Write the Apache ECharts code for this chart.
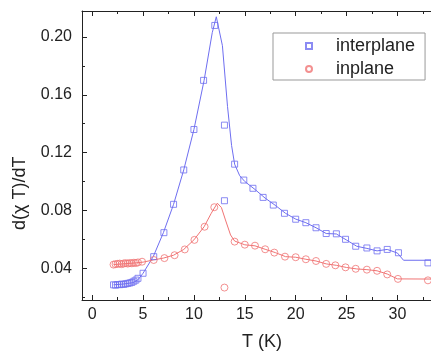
<!DOCTYPE html>
<html>
<head>
<meta charset="utf-8">
<script src="https://cdn.jsdelivr.net/npm/echarts@6/dist/echarts.min.js"></script>
<style>
html,body{margin:0;padding:0;background:#fff;}
#c{width:431px;height:355px;}
</style>
</head>
<body>
<div id="c"></div>
<script>
// measured points
const interplaneT = [2.1,2.3,2.5,2.7,2.9,3.1,3.3,3.5,3.7,3.9,4.1,4.3,4.5,5.0,6.05,7.05,8.0,9.0,10.0,10.95,12.05,13.0,13.0,14.0,14.9,15.8,16.8,17.8,18.9,20.0,21.0,22.0,23.0,24.0,24.9,25.9,27.0,28.0,29.0,30.1,33.0];
const interplaneV = [0.0285,0.0283,0.0287,0.0286,0.029,0.0288,0.0292,0.0295,0.0298,0.0302,0.031,0.0318,0.033,0.0365,0.048,0.0646,0.0842,0.108,0.136,0.170,0.208,0.139,0.0867,0.112,0.101,0.0953,0.089,0.0837,0.078,0.0739,0.0715,0.068,0.064,0.0638,0.060,0.0552,0.054,0.052,0.053,0.0507,0.0437];
const inplaneT = [2.1,2.3,2.5,2.7,2.9,3.1,3.3,3.5,3.7,3.9,4.1,4.3,4.5,4.9,6.05,7.1,8.1,9.1,10.05,11.05,12.0,13.0,14.0,15.0,16.0,17.0,17.9,18.95,20.0,21.0,22.0,23.0,23.9,24.9,25.9,27.0,28.0,29.0,30.05,33.0];
const inplaneV = [0.0425,0.0428,0.043,0.0432,0.0428,0.0433,0.0435,0.0432,0.0436,0.0434,0.0438,0.0436,0.044,0.0445,0.0457,0.047,0.049,0.053,0.0596,0.0687,0.0822,0.0266,0.0584,0.0563,0.0556,0.0531,0.0508,0.048,0.0476,0.0462,0.045,0.043,0.042,0.0406,0.0396,0.039,0.0382,0.0357,0.0326,0.0316];
// guide curves
const interplaneFitT = [2.1,3,4,4.5,5,6,7,8,9,10,11,11.8,12.2,12.8,13.3,13.7,14,14.5,15,16,17,18,19,20,21,22,23,24,25,26,27,28,29,30,30.6,33.3];
const interplaneFitV = [0.0285,0.029,0.030,0.032,0.0365,0.048,0.0646,0.0842,0.108,0.136,0.170,0.203,0.214,0.194,0.152,0.125,0.112,0.104,0.100,0.0945,0.0885,0.0835,0.078,0.074,0.0715,0.068,0.064,0.0637,0.0595,0.0552,0.0537,0.052,0.053,0.0505,0.0455,0.0455];
const inplaneFitT = [2.1,3,4,5,6,7,8,9,10,11,11.7,12.3,12.7,13.1,13.6,14,15,16,17,18,19,20,21,22,23,24,25,26,27,28,29,30,33.3];
const inplaneFitV = [0.0425,0.043,0.0435,0.0442,0.0457,0.047,0.049,0.053,0.0596,0.0687,0.078,0.085,0.082,0.0734,0.063,0.0588,0.0562,0.0555,0.0531,0.0508,0.048,0.0476,0.0462,0.045,0.043,0.042,0.0405,0.0395,0.039,0.0382,0.036,0.0326,0.0325];
// axis ticks
const xMajor = [0,5,10,15,20,25,30];
const xMinor = [2.5,7.5,12.5,17.5,22.5,27.5,32.5];
const yMajor = [0.04,0.08,0.12,0.16,0.20];
const yMinor = [0.02,0.06,0.10,0.14,0.18];

const zip = (a,b) => a.map((v,i)=>[v,b[i]]);
const FONT = 'Liberation Sans, Arial, sans-serif';
const BLUE = '#6e6ef0', RED = '#f07474';
const XMIN = -1, XMAX = 33.3, YMIN = 0.018, YMAX = 0.218;

function xAx(pos, ticks, len, labels, line){
  return {type:'value', min:XMIN, max:XMAX, position:pos, splitLine:{show:false},
    axisLine:{show:line, onZero:false, lineStyle:{color:'#222', width:1}},
    axisTick:{show:true, inside:true, length:len, customValues:ticks, lineStyle:{color:'#222', width:1}},
    axisLabel:{show:labels, customValues:ticks, fontSize:16, fontFamily:FONT, color:'#222', margin:7,
      formatter:v=>String(v)}};
}
function yAx(ticks, len, labels, line){
  return {type:'value', min:YMIN, max:YMAX, position:'left', splitLine:{show:false},
    axisLine:{show:line, onZero:false, lineStyle:{color:'#222', width:1}},
    axisTick:{show:true, inside:true, length:len, customValues:ticks, lineStyle:{color:'#222', width:1}},
    axisLabel:{show:labels, customValues:ticks, fontSize:16, fontFamily:FONT, color:'#222', margin:10,
      formatter:v=>v.toFixed(2)}};
}

const chart = echarts.init(document.getElementById('c'), null, {renderer:'canvas'});
chart.setOption({
  animation:false,
  backgroundColor:'#fff',
  grid:{left:82, right:0, top:11, bottom:55, containLabel:false},
  xAxis:[xAx('bottom', xMajor, 5, true, true), xAx('bottom', xMinor, 3, false, false),
         xAx('top', xMajor, 5, false, true), xAx('top', xMinor, 3, false, false)],
  yAxis:[yAx(yMajor, 5, true, true), yAx(yMinor, 3, false, false)],
  legend:{orient:'vertical', left:273, top:33, data:['interplane','inplane'],
    itemWidth:6, itemHeight:6, itemGap:5, padding:[4,10,2,32],
    borderColor:'#999', borderWidth:1, backgroundColor:'#fff',
    textStyle:{fontSize:18, fontFamily:FONT, color:'#222', padding:[0,0,0,19]}},
  series:[
    {type:'line', name:'interplaneFit', data:zip(interplaneFitT, interplaneFitV), showSymbol:false, symbol:'none',
      lineStyle:{color:BLUE, width:1}, itemStyle:{color:BLUE}, silent:true, z:2},
    {type:'line', name:'inplaneFit', data:zip(inplaneFitT, inplaneFitV), showSymbol:false, symbol:'none',
      lineStyle:{color:RED, width:1}, itemStyle:{color:RED}, silent:true, z:2},
    {type:'scatter', name:'interplane', data:zip(interplaneT, interplaneV), symbol:'rect', symbolSize:6,
      itemStyle:{color:'rgba(255,255,255,0)', borderColor:BLUE, borderWidth:1}, z:3},
    {type:'scatter', name:'inplane', data:zip(inplaneT, inplaneV), symbol:'circle', symbolSize:7,
      itemStyle:{color:'rgba(255,255,255,0)', borderColor:RED, borderWidth:1}, z:3}
  ],
  graphic:[
    {type:'text', left:242, top:333, style:{text:'T (K)', font:'18px '+FONT, fill:'#222'}},
    {type:'text', rotation:Math.PI/2, x:11, y:230, style:{text:'d(χ T)/dT', font:'18px '+FONT, fill:'#222'}}
  ]
});
</script>
</body>
</html>
